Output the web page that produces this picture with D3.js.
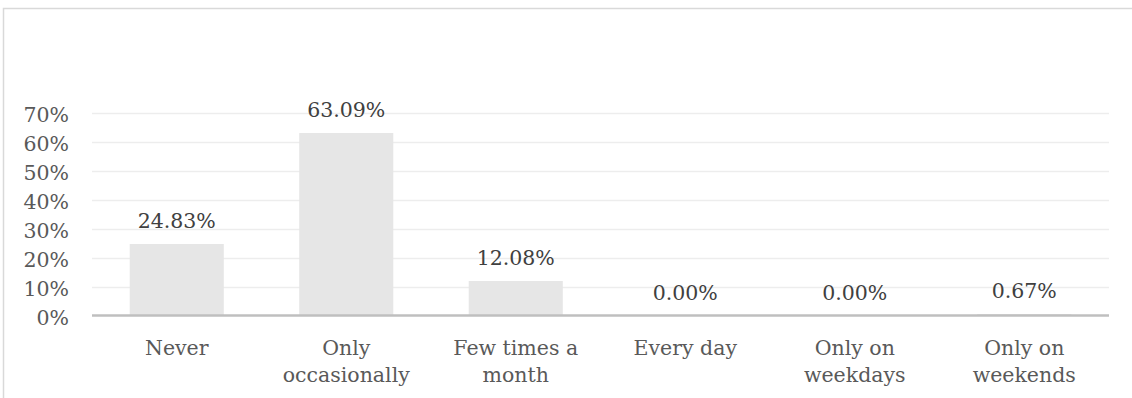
<!DOCTYPE html>
<html>
<head>
<meta charset="utf-8">
<script src="https://cdn.jsdelivr.net/npm/d3@7"></script>
<style>
  html, body { margin: 0; padding: 0; background: #ffffff; }
  svg { display: block; }
  text { font-family: "DejaVu Serif", "Liberation Serif", serif; }
</style>
</head>
<body>
<svg id="chart" width="1132" height="398"></svg>
<script>
// Frequency categories (each label may wrap onto two lines)
const categories = [
  ["Never"],
  ["Only", "occasionally"],
  ["Few times a", "month"],
  ["Every day"],
  ["Only on", "weekdays"],
  ["Only on", "weekends"]
];
// Share of respondents per category, in percent
const values = [24.83, 63.09, 12.08, 0.00, 0.00, 0.67];
// Y axis ticks, in percent
const yTicks = [0, 10, 20, 30, 40, 50, 60, 70];

const svg = d3.select("#chart");
const W = 1132, H = 398;
const plotLeft = 92, plotRight = 1109, plotTop = 113, plotBottom = 316;

// Chart frame
svg.append("path")
  .attr("d", `M3.5,${H + 2} V8.5 H${W + 2}`)
  .attr("fill", "none")
  .attr("stroke", "#d9d9d9")
  .attr("stroke-width", 1.5);

const x = d3.scaleBand()
  .domain(d3.range(categories.length))
  .range([plotLeft, plotRight])
  .paddingInner(0.445)
  .paddingOuter(0.2225);

const y = d3.scaleLinear().domain([0, 70]).range([plotBottom, plotTop]);

// Horizontal gridlines
svg.append("g")
  .selectAll("line")
  .data(yTicks.filter(t => t > 0))
  .join("line")
  .attr("x1", plotLeft).attr("x2", plotRight)
  .attr("y1", d => y(d) + 0.5).attr("y2", d => y(d) + 0.5)
  .attr("stroke", "#ededed")
  .attr("stroke-width", 1.6);

// Y axis tick labels
const yAxis = d3.axisLeft(y)
  .tickValues(yTicks)
  .tickFormat(d => d + "%")
  .tickSize(0)
  .tickPadding(0);
const yg = svg.append("g")
  .attr("transform", `translate(69,0)`)
  .call(yAxis);
yg.select(".domain").remove();
yg.selectAll("text")
  .attr("fill", "#595959")
  .attr("font-size", "20.5px")
  .attr("font-family", "'DejaVu Serif', serif")
  .attr("dy", "0.4em");

// Bars
svg.append("g")
  .selectAll("rect")
  .data(values)
  .join("rect")
  .attr("x", (d, i) => x(i))
  .attr("width", x.bandwidth())
  .attr("y", d => y(d))
  .attr("height", d => plotBottom - y(d))
  .attr("fill", "#e6e6e6");

// Baseline axis
svg.append("line")
  .attr("x1", plotLeft).attr("x2", plotRight)
  .attr("y1", plotBottom - 0.5).attr("y2", plotBottom - 0.5)
  .attr("stroke", "#bfbfbf")
  .attr("stroke-width", 2.6);

// Value labels above the bars
svg.append("g")
  .selectAll("text")
  .data(values)
  .join("text")
  .attr("x", (d, i) => x(i) + x.bandwidth() / 2)
  .attr("y", d => y(d) - 16)
  .attr("text-anchor", "middle")
  .attr("font-size", "20.5px")
  .attr("fill", "#404040")
  .text(d => d.toFixed(2) + "%");

// Category labels
const cg = svg.append("g")
  .selectAll("text")
  .data(categories)
  .join("text")
  .attr("x", (d, i) => x(i) + x.bandwidth() / 2)
  .attr("y", 355)
  .attr("text-anchor", "middle")
  .attr("font-size", "20.5px")
  .attr("fill", "#595959");
cg.selectAll("tspan")
  .data(d => d)
  .join("tspan")
  .attr("x", function () { return d3.select(this.parentNode).attr("x"); })
  .attr("dy", (d, i) => i === 0 ? 0 : 26.7)
  .text(d => d);
</script>
</body>
</html>
